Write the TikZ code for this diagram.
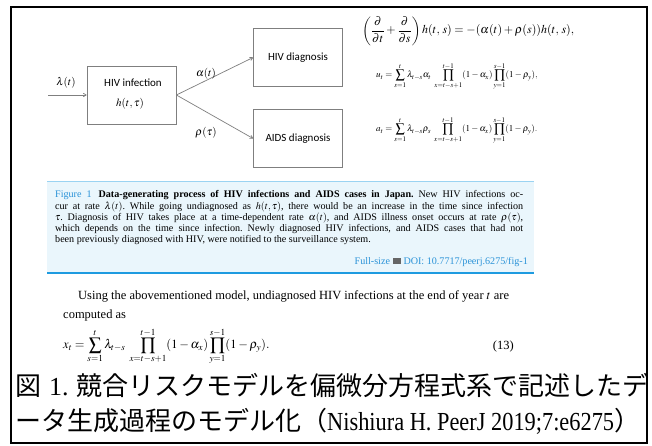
\documentclass[tikz,border=0pt]{standalone}
\usepackage{mathptmx}
\usepackage{graphicx}
\usepackage{fontspec}
\setmainfont{Liberation Serif}
\newfontfamily\cjk{Noto Sans CJK JP}
\newfontfamily\calib{Carlito}
\usetikzlibrary{arrows.meta}
\definecolor{pjblue}{HTML}{2B93D8}
\definecolor{capbg}{HTML}{EAF6FC}
\definecolor{captop}{HTML}{9AD3F2}
\definecolor{capbot}{HTML}{1E9BE0}
\definecolor{boxgray}{HTML}{7F7F7F}
\tikzset{
  dbox/.style={draw=boxgray, line width=0.8pt, minimum width=89pt, minimum height=58pt, inner sep=0pt},
  arr/.style={draw=boxgray, line width=0.7pt, -{To[length=3.5pt,width=4pt]}},
  lbl/.style={inner sep=0pt, font=\fontsize{11}{12}\selectfont},
  eqn/.style={anchor=west, inner sep=0pt, font=\fontsize{9}{11}\selectfont},
  capline/.style={anchor=base west, inner sep=0pt, font=\fontsize{10.1}{11}\selectfont\frenchspacing},
  body/.style={anchor=base west, inner sep=0pt, font=\fontsize{12.5}{14}\selectfont},
  jp/.style={anchor=base west, inner sep=0pt, font=\fontsize{26}{30}\selectfont},
}
\begin{document}
\begin{tikzpicture}[x=1pt,y=-1pt]
\useasboundingbox (0,0) rectangle (652,446);
\fill[white] (0,0) rectangle (652,446);
\draw[line width=2pt] (11,7) rectangle (647,443);

% diagram
\node[dbox] (inf) at (131.5,95) {};
\node[inner sep=0pt, font=\calib\fontsize{11}{12}\selectfont] (inft) at (133,83) {HIV infection};
\node[lbl] (h) at (130,104) {$h(t,\tau)$};
\node[dbox, font=\calib\fontsize{11}{12}\selectfont] (hd) at (298,57.5) {HIV diagnosis};
\node[dbox, font=\calib\fontsize{11}{12}\selectfont] (ad) at (298,138.5) {AIDS diagnosis};
\coordinate (in) at (48,95);
\draw[arr] (in) -- (inf.west);
\draw[arr] (inf.east) -- (hd.west);
\draw[arr] (inf.east) -- (ad.west);
\node[lbl] (lam) at (66,83) {$\lambda(t)$};
\node[lbl] (alp) at (206,74) {$\alpha(t)$};
\node[lbl] (rho) at (206,133) {$\rho(\tau)$};

% equations
\node[eqn, font=\fontsize{12}{13}\selectfont] (eq1) at (362,31) {$\displaystyle\left(\frac{\partial}{\partial t}+\frac{\partial}{\partial s}\right)h(t,\,s)=-(\alpha(t)+\rho(s))h(t,\,s),$};
\node[eqn] (eq2) at (376,76) {$\displaystyle u_t=\sum_{s=1}^{t}\lambda_{t-s}\alpha_t\;\prod_{x=t-s+1}^{t-1}(1-\alpha_x)\prod_{y=1}^{s-1}(1-\rho_y),$};
\node[eqn] (eq3) at (376,130) {$\displaystyle a_t=\sum_{s=1}^{t}\lambda_{t-s}\rho_s\;\prod_{x=t-s+1}^{t-1}(1-\alpha_x)\prod_{y=1}^{s-1}(1-\rho_y).$};

% caption box
\fill[capbg] (47,181) rectangle (534,273);
\draw[captop, line width=0.6pt] (47,181) -- (534,181);
\draw[capbot, line width=2pt] (47,273) -- (534,273);
\node[capline] (c1) at (55,198) {\hbox to 468pt{\textcolor{pjblue}{Figure 1}\hspace{0.7em}\textbf{Data-generating process of HIV infections and AIDS cases in Japan.} New HIV infections oc-}};
\node[capline] (c2) at (55,209.2) {\hbox to 468pt{cur at rate $\lambda(t)$. While going undiagnosed as $h(t,\tau)$, there would be an increase in the time since infection}};
\node[capline] (c3) at (55,220.4) {\hbox to 468pt{$\tau$. Diagnosis of HIV takes place at a time-dependent rate $\alpha(t)$, and AIDS illness onset occurs at rate $\rho(\tau)$,}};
\node[capline] (c4) at (55,231.6) {\hbox to 468pt{which depends on the time since infection. Newly diagnosed HIV infections, and AIDS cases that had not}};
\node[capline] (c5) at (55,242.8) {been previously diagnosed with HIV, were notified to the surveillance system.};
\node[capline, anchor=base east, text=pjblue] (full) at (528,264) {Full-size {\color{gray!80!black}\rule{8.5pt}{6.5pt}} DOI: 10.7717/peerj.6275/fig-1};

% body text
\node[body] (b1) at (78,299) {Using the abovementioned model, undiagnosed HIV infections at the end of year $t$ are};
\node[body] (b2) at (63,318) {computed as};
\node[anchor=west, inner sep=0pt, font=\fontsize{12.5}{14}\selectfont] (eq13) at (63,346) {$\displaystyle x_t=\sum_{s=1}^{t}\lambda_{t-s}\;\prod_{x=t-s+1}^{t-1}(1-\alpha_x)\prod_{y=1}^{s-1}(1-\rho_y).$};
\node[anchor=east, inner sep=0pt, font=\fontsize{12.5}{14}\selectfont] (n13) at (514,346) {(13)};

% Japanese caption
\node[jp] (j1) at (15,395) {{\cjk 図}\hspace{0.3em}1.\hspace{0.3em}{\cjk 競合リスクモデルを偏微分方程式系で記述したデ}};
\node[jp] (j2) at (15,430) {{\cjk ータ生成過程のモデル化（}\scalebox{0.86}[1]{Nishiura H. PeerJ 2019;7:e6275}{\cjk ）}};
\end{tikzpicture}
\end{document}
